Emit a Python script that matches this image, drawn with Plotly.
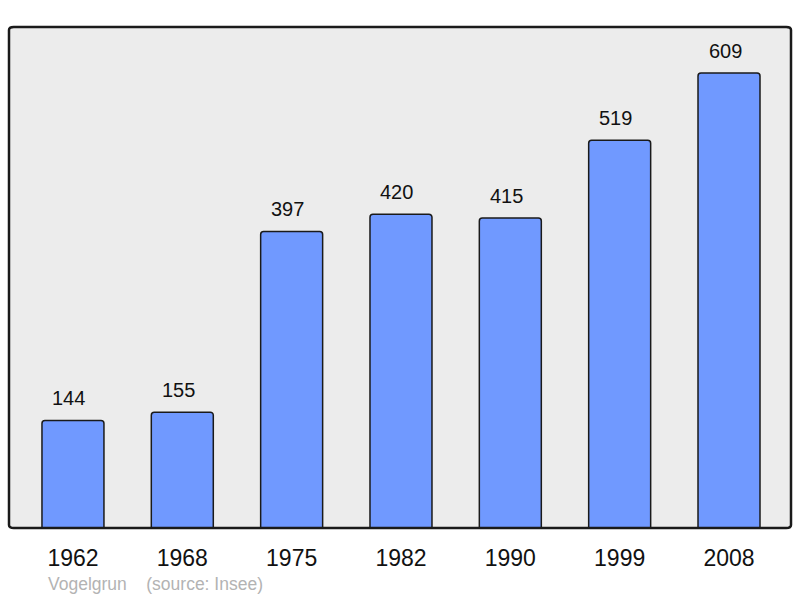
import plotly.graph_objects as go

years = ["1962", "1968", "1975", "1982", "1990", "1999", "2008"]
population = [144, 155, 397, 420, 415, 519, 609]
positions = list(range(len(years)))

fig = go.Figure()
fig.add_trace(go.Bar(
    x=positions, y=population, width=0.567,
    marker=dict(color="#7099ff", line=dict(color="#1a1a1a", width=1.5), cornerradius=3),
    hoverinfo="skip",
))
for p, v in zip(positions, population):
    fig.add_annotation(x=p, y=v, text=str(v), showarrow=False, yanchor="bottom",
                       yshift=9, xshift=-4, font=dict(size=20, color="#111", family="Liberation Sans"))

fig.add_shape(type="path", xref="paper", yref="paper",
              path="M 0,0.006 L 0,0.994 Q 0,1 0.006,1 L 0.994,1 Q 1,1 1,0.994 L 1,0.006 Q 1,0 0.994,0 L 0.006,0 Q 0,0 0,0.006 Z",
              line=dict(color="#1a1a1a", width=2.5), layer="above")

fig.add_annotation(xref="paper", yref="paper", x=(48-9)/782, y=-(584-528)/501,
                   text="Vogelgrun&nbsp;&nbsp;&nbsp;&nbsp;(source: Insee)", showarrow=False,
                   xanchor="left", yanchor="middle", xshift=-2,
                   font=dict(size=17.5, color="#b3b3b3", family="Liberation Sans"))

fig.update_layout(
    width=800, height=598,
    margin=dict(l=9, r=9, t=27, b=70),
    paper_bgcolor="white", plot_bgcolor="#ececec",
    showlegend=False,
    font=dict(family="Liberation Sans"),
    xaxis=dict(range=[-0.585, 6.567], tickmode="array", tickvals=positions, ticktext=years,
               showgrid=False, zeroline=False, showline=False, ticks="",
               tickfont=dict(size=23, color="#111"), ticklabelstandoff=14, fixedrange=True),
    yaxis=dict(range=[0, 670.6], showgrid=False, zeroline=False, showticklabels=False,
               showline=False, fixedrange=True),
)
fig.write_html("out.html", config={"displayModeBar": False},
               post_script="document.body.style.margin='0';document.body.style.overflow='hidden';")
